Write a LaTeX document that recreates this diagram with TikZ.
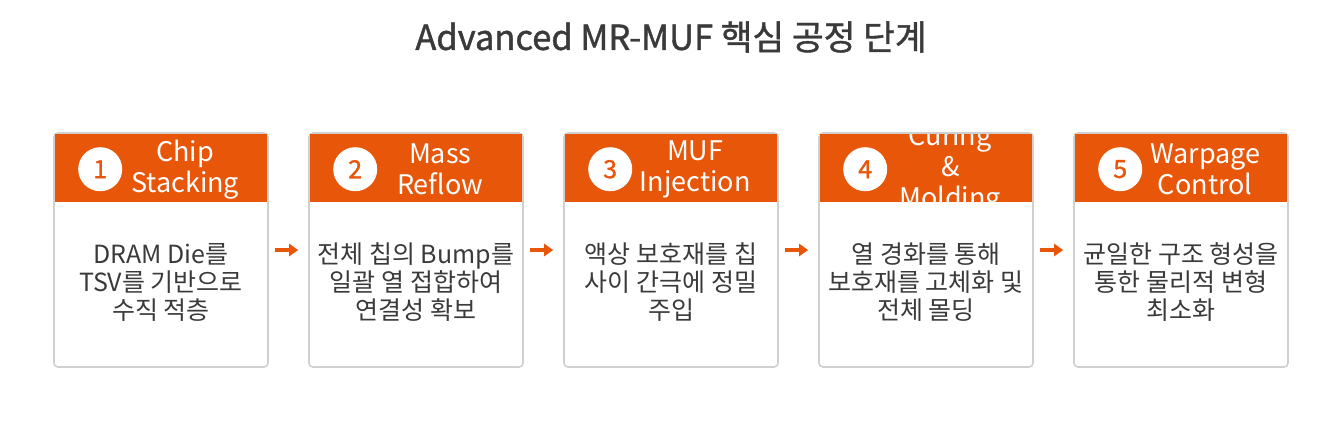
\documentclass[tikz,border=0pt]{standalone}
\usepackage{fontspec}
\setmainfont{Noto Sans CJK KR}
\newfontfamily\heavyfont[FakeBold=1.2]{Noto Sans CJK KR}
\usetikzlibrary{positioning,arrows.meta}
\definecolor{accent}{HTML}{E8560A}
\definecolor{ink}{HTML}{3A3A3A}
\definecolor{frame}{HTML}{D0D0D0}
\tikzset{
  card/.style={draw=frame, line width=1.6pt, rounded corners=4pt, fill=white,
    minimum width=214pt, minimum height=234pt},
  head/.style={fill=accent},
  badge/.style={circle, fill=white, minimum size=44pt, inner sep=0pt,
    text=accent, font=\heavyfont\fontsize{25}{25}\selectfont},
  headtxt/.style={text=white, align=center, font=\fontsize{27}{31}\selectfont},
  bodytxt/.style={text=ink, align=center, font=\fontsize{25}{28}\selectfont},
  flow/.style={draw=accent, line width=3.5pt, -{Triangle[length=9pt,width=12pt]}},
}
\begin{document}
\begin{tikzpicture}[x=1pt,y=-1pt]
\useasboundingbox[fill=white] (0,0) rectangle (1341,424);

\node[text=ink, font=\heavyfont\fontsize{34.5}{34.5}\selectfont] (title) at (671,37)
  {Advanced MR-MUF 핵심 공정 단계};

% five process cards
\foreach \i/\hd/\bd in {
  1/{Chip\\Stacking}/{DRAM Die를\\TSV를 기반으로\\수직 적층},
  2/{Mass\\Reflow}/{전체 칩의 Bump를\\일괄 열 접합하여\\연결성 확보},
  3/{MUF\\Injection}/{액상 보호재를 칩\\사이 간극에 정밀\\주입},
  4/{Curing\\\&\\Molding}/{열 경화를 통해\\보호재를 고체화 및\\전체 몰딩},
  5/{Warpage\\Control}/{균일한 구조 형성을\\통한 물리적 변형\\최소화}}{
  \pgfmathsetmacro\cx{161+255*(\i-1)}
  \node[card] (card\i) at (\cx,250) {};
  \begin{scope}
    \clip ([xshift=2pt,yshift=-2pt]card\i.north west)
      rectangle ([xshift=-2pt,yshift=-70pt]card\i.north east);
    \fill[head] ([xshift=2pt,yshift=-2pt]card\i.north west)
      rectangle ([xshift=-2pt,yshift=-70pt]card\i.north east);
    \node[headtxt] (ttl\i) at ([xshift=132pt,yshift=-37pt]card\i.north west) {\hd};
  \end{scope}
  \node[badge] (num\i) at ([xshift=47pt,yshift=-37pt]card\i.north west) {\i};
  \node[bodytxt] (desc\i) at ([yshift=-150pt]card\i.north) {\bd};
}

% arrows between the cards
\foreach \i [evaluate=\i as \j using int(\i+1)] in {1,...,4}
  \draw[flow] ([xshift=6pt]card\i.east) -- ([xshift=-10pt]card\j.west);
\end{tikzpicture}
\end{document}
